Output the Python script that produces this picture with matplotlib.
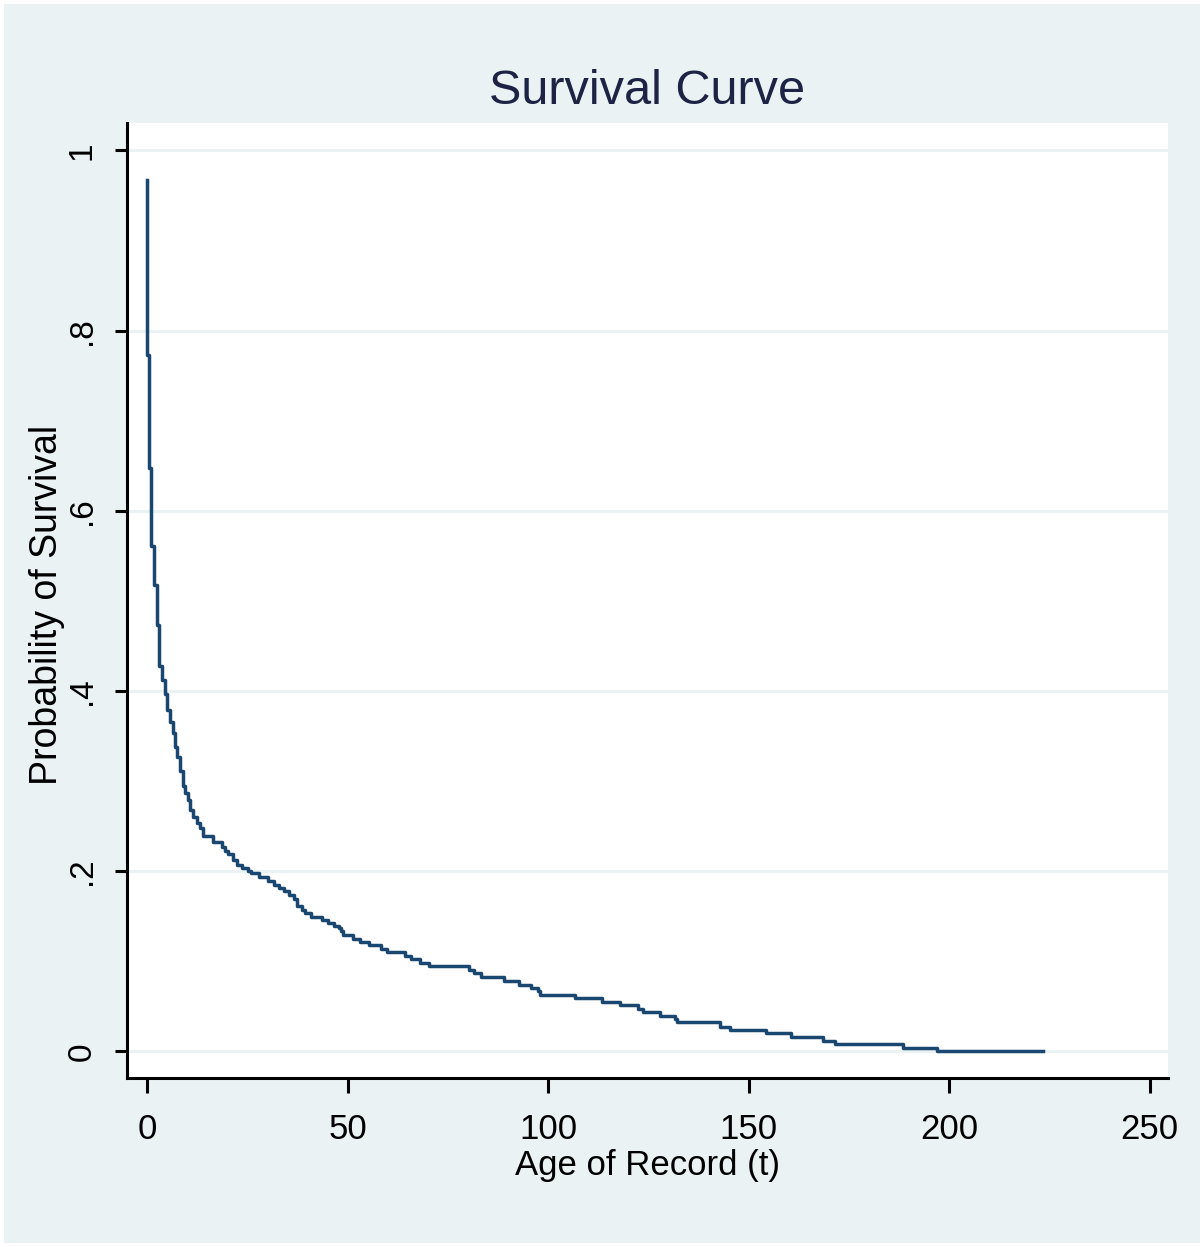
import matplotlib
matplotlib.use("Agg")
import matplotlib.pyplot as plt
from matplotlib.patches import Rectangle

# Kaplan-Meier estimate (time of drop, survival after drop)
times = [0, 0, 0.55, 1.05, 1.67, 2.42, 3.04, 3.67, 4.41, 5.04, 5.66, 6.41, 7.03, 7.53,
         8.15, 8.90, 9.40, 10.15, 10.65, 11.40, 12.39, 13.14, 13.89, 16.51, 18.63, 19.38,
         20.12, 21.37, 22.37, 23.62, 25.11, 25.86, 27.86, 30.10, 31.60, 32.84, 34.09, 35.34,
         36.58, 37.33, 38.58, 39.33, 40.82, 43.57, 45.06, 46.56, 47.81, 48.31, 48.80, 51.30,
         53.04, 55.29, 58.28, 59.78, 64.27, 65.77, 68.01, 70.26, 80.22, 81.47, 83.22, 88.95,
         92.69, 95.69, 97.43, 97.93, 106.66, 113.39, 117.88, 122.37, 123.62, 127.86, 131.60,
         132.1, 142.82, 145.31, 154.29, 160.52, 168.5, 171.5, 188.46, 196.93, 223.3]
survival = [0.967, 0.773, 0.648, 0.561, 0.518, 0.473, 0.428, 0.412, 0.397, 0.379, 0.366,
            0.353, 0.338, 0.327, 0.311, 0.295, 0.287, 0.279, 0.268, 0.260, 0.253, 0.248,
            0.239, 0.232, 0.227, 0.222, 0.219, 0.212, 0.207, 0.203, 0.200, 0.198, 0.193,
            0.189, 0.185, 0.181, 0.178, 0.174, 0.169, 0.161, 0.157, 0.154, 0.149, 0.146,
            0.142, 0.139, 0.137, 0.134, 0.129, 0.125, 0.121, 0.118, 0.114, 0.110, 0.106,
            0.102, 0.098, 0.095, 0.090, 0.087, 0.082, 0.078, 0.074, 0.070, 0.067, 0.063,
            0.059, 0.055, 0.051, 0.047, 0.044, 0.039, 0.036, 0.033, 0.027, 0.024, 0.020,
            0.016, 0.012, 0.008, 0.004, 0.000, 0.000]

xticks = [0, 50, 100, 150, 200, 250]
yticks = [0, 0.2, 0.4, 0.6, 0.8, 1]
ytick_labels = ["0", ".2", ".4", ".6", ".8", "1"]

BG = "#EAF2F3"
LINE = "#1A476F"
fam = ["Liberation Sans Narrow", "Liberation Sans", "DejaVu Sans"]

W, H = 1204, 1247
fig = plt.figure(figsize=(W / 100, H / 100), dpi=100, facecolor="white")
fig.patches.append(Rectangle((4 / W, 4 / H), 1196 / W, 1239 / H,
                             transform=fig.transFigure, facecolor=BG,
                             edgecolor="none", zorder=-10))

ax = fig.add_axes([127 / W, 1 - 1078 / H, (1168 - 127) / W, (1078 - 123) / H])
ax.set_facecolor("white")

ax.step(times, survival, where="post", color=LINE, lw=2.5, zorder=3)

ax.set_xlim(-5.06, 254.6)
ax.set_ylim(-0.0296, 1.0305)

ax.set_xticks(xticks)
ax.set_xticklabels([str(v) for v in xticks], family=fam, fontsize=25)
ax.set_yticks(yticks)
ax.set_yticklabels(ytick_labels, family=fam, fontsize=24, rotation=90, va="center")

ax.tick_params(axis="x", length=11, width=2.2, pad=14, color="black")
ax.tick_params(axis="y", length=9, width=2.2, pad=12, color="black")

ax.yaxis.grid(True, color=BG, lw=2.2, zorder=0)
ax.set_axisbelow(True)

for side in ["top", "right"]:
    ax.spines[side].set_visible(False)
for side in ["left", "bottom"]:
    ax.spines[side].set_linewidth(2.2)
    ax.spines[side].set_color("black")

ax.set_title("Survival Curve", family=fam, fontsize=35, color="#1c2344", pad=14)
ax.set_xlabel("Age of Record (t)", family=fam, fontsize=25, labelpad=2)
ax.set_ylabel("Probability of Survival", family=fam, fontsize=27, va="center")
ax.yaxis.set_label_coords(-0.077, 0.495)

fig.savefig("out.png", dpi=100, facecolor=fig.get_facecolor())
